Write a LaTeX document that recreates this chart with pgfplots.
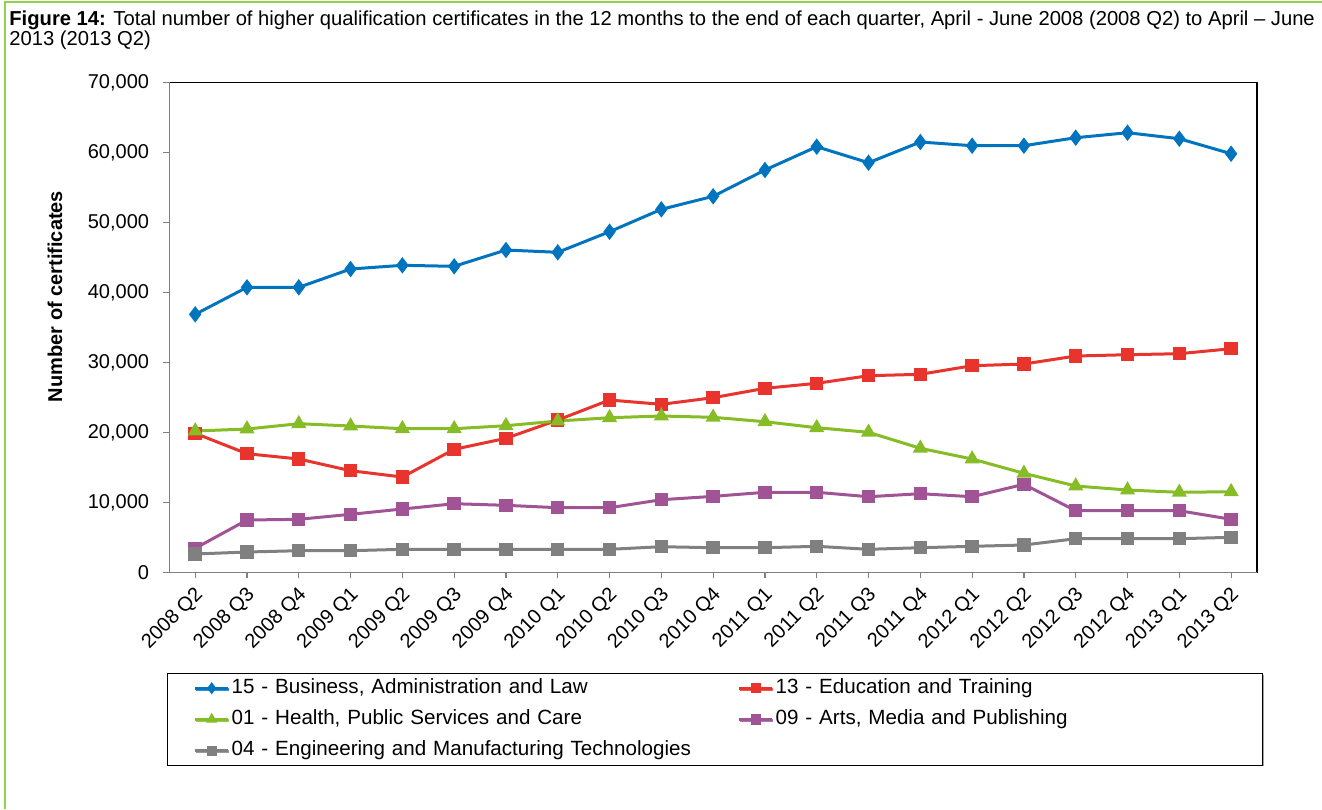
\documentclass[border=0pt]{standalone}
\usepackage{pgfplots}
\pgfplotsset{compat=1.18}
\usetikzlibrary{shadows}
\usepackage{fontspec}
\setmainfont{Liberation Sans}
\definecolor{cBlue}{RGB}{0,116,190}
\definecolor{cRed}{RGB}{232,52,44}
\definecolor{cGreen}{RGB}{134,188,37}
\definecolor{cPurple}{RGB}{160,84,150}
\definecolor{cGrey}{RGB}{128,128,128}
\definecolor{frameGreen}{RGB}{146,208,80}
\begin{document}
\begin{tikzpicture}[x=1pt,y=1pt]
\useasboundingbox (0,0) rectangle (661,-404.5);
\draw[frameGreen, line width=1pt] (2.5,-404.5) -- (2.5,-1) -- (661,-1);
\node[anchor=base west, inner sep=0pt, font=\fontsize{10.1}{10}\selectfont] at (4.5,-12.5) {\textbf{Figure 14:} Total number of higher qualification certificates in the 12 months to the end of each quarter, April - June 2008 (2008 Q2) to April – June};
\node[anchor=base west, inner sep=0pt, font=\fontsize{10.1}{10}\selectfont] at (4.5,-22.7) {2013 (2013 Q2)};
\begin{axis}[
  at={(84.65pt,-286.15pt)}, anchor=south west,
  scale only axis, width=543.85pt, height=245pt,
  xmin=-0.5, xmax=20.5, ymin=0, ymax=70000,
  xtick={0,...,20},
  xticklabels={2008 Q2,2008 Q3,2008 Q4,2009 Q1,2009 Q2,2009 Q3,2009 Q4,2010 Q1,2010 Q2,2010 Q3,2010 Q4,2011 Q1,2011 Q2,2011 Q3,2011 Q4,2012 Q1,2012 Q2,2012 Q3,2012 Q4,2013 Q1,2013 Q2},
  ytick={0,10000,...,70000},
  scaled y ticks=false,
  yticklabel style={/pgf/number format/fixed, /pgf/number format/1000 sep={,}, /pgf/number format/assume math mode=true, xshift=-3.6pt},
  tick label style={font=\fontsize{10}{11}\selectfont, text=black},
  xticklabel style={xshift=2.5pt, yshift=-6.5pt, rotate=45, anchor=east, inner sep=0pt},
  tick align=outside, tick pos=left,
  major tick length=3pt,
  tick style={cGrey, line width=0.6pt},
  axis line style={black, line width=0.6pt},
  ylabel={Number of certificates},
  every axis y label/.style={at={(axis description cs:-0.1050,0.563)}, rotate=90, anchor=center, font=\fontsize{10}{11}\selectfont\bfseries},
  legend columns=2,
  legend style={at={(axis description cs:-0.002,-0.2055)}, anchor=north west, draw=black, line width=0.6pt,
    fill=white, drop shadow={shadow xshift=0.6pt, shadow yshift=-0.6pt, fill=black!45, opacity=0.8},
    inner xsep=13pt, inner ysep=1.6pt, row sep=4.2pt,
    font=\fontsize{10.3}{11}\selectfont,
    nodes={inner sep=1pt, text height=7.2pt, text depth=2.2pt, text width=252pt, align=left},
    /tikz/column 4/.style={nodes={text width=229.5pt}}},
  legend cell align=left,
  legend image code/.code={\draw[#1, mark repeat=2, mark phase=2, mark size=1.8pt] plot coordinates {(0pt,0pt) (8.25pt,0pt) (16.5pt,0pt)};},
  every axis plot/.append style={line width=1.5pt, mark options={solid}},
  clip=false,
]
\addplot[cBlue, mark=diamond*, mark size=2.9pt] coordinates {
(0,36857) (1,40714) (2,40714) (3,43329) (4,43857) (5,43714) (6,46043) (7,45714) (8,48657) (9,51857) (10,53714) (11,57471) (12,60800) (13,58514) (14,61471) (15,60943) (16,60943) (17,62086) (18,62800) (19,61943) (20,59800)};
\addlegendentry{15 - Business, Administration and Law}
\addplot[cRed, mark=square*, mark size=2.6pt] coordinates {
(0,19857) (1,16943) (2,16186) (3,14514) (4,13614) (5,17571) (6,19143) (7,21757) (8,24614) (9,24000) (10,24943) (11,26286) (12,27000) (13,28086) (14,28286) (15,29514) (16,29757) (17,30900) (18,31086) (19,31229) (20,31943)};
\addlegendentry{13 - Education and Training}
\addplot[cGreen, mark=triangle*, mark size=2.9pt] coordinates {
(0,20186) (1,20471) (2,21229) (3,20900) (4,20514) (5,20514) (6,20943) (7,21614) (8,22086) (9,22329) (10,22143) (11,21514) (12,20657) (13,20000) (14,17714) (15,16186) (16,14143) (17,12329) (18,11757) (19,11429) (20,11514)};
\addlegendentry{01 - Health, Public Services and Care}
\addplot[cPurple, mark=square*, mark size=2.6pt] coordinates {
(0,3429) (1,7471) (2,7571) (3,8286) (4,9043) (5,9800) (6,9571) (7,9229) (8,9229) (9,10371) (10,10850) (11,11429) (12,11429) (13,10800) (14,11229) (15,10800) (16,12571) (17,8800) (18,8800) (19,8800) (20,7571)};
\addlegendentry{09 - Arts, Media and Publishing}
\addplot[cGrey, mark=square*, mark size=2.6pt] coordinates {
(0,2614) (1,2900) (2,3086) (3,3086) (4,3286) (5,3286) (6,3286) (7,3286) (8,3286) (9,3657) (10,3514) (11,3514) (12,3714) (13,3286) (14,3514) (15,3714) (16,3900) (17,4800) (18,4800) (19,4800) (20,5000)};
\addlegendentry{04 - Engineering and Manufacturing Technologies}
\draw[cGrey, line width=0.6pt] (rel axis cs:0,1) -- (rel axis cs:0,0) -- (rel axis cs:1,0);
\end{axis}
\end{tikzpicture}
\end{document}
